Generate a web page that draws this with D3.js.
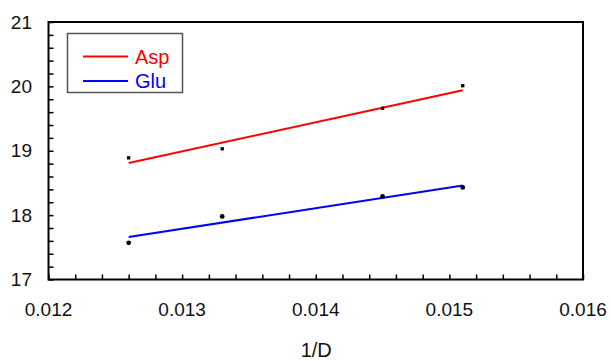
<!DOCTYPE html>
<html>
<head>
<meta charset="utf-8">
<script src="https://cdn.jsdelivr.net/npm/d3@7"></script>
<style>
  html, body { margin: 0; padding: 0; background: #fff; }
  svg { display: block; font-family: Arial, "Liberation Sans", sans-serif; }
</style>
</head>
<body>
<svg id="chart" width="611" height="361"></svg>
<script>
// Data
const xValues = [0.0126, 0.0133, 0.0145, 0.0151];
const aspValues = [18.89, 19.03, 19.66, 20.01];
const gluValues = [17.57, 17.98, 18.29, 18.43];
// Fitted (trend) lines: endpoints
const fitX = [0.0126, 0.0151];
const aspFit = [18.81, 19.94];
const gluFit = [17.66, 18.46];
const seriesNames = ["Asp", "Glu"];
const xTicks = [0.012, 0.013, 0.014, 0.015, 0.016];
const yTicks = [17, 18, 19, 20, 21];
const xLabel = "1/D";

const svg = d3.select("#chart");
const mLeft = 48.5, mRight = 583, mTop = 22, mBottom = 279.5;

const x = d3.scaleLinear().domain([0.012, 0.016]).range([mLeft, mRight]);
const y = d3.scaleLinear().domain([17, 21]).range([mBottom, mTop]);

// minor ticks (inward)
const xMinor = d3.range(0, 21).map(i => 0.012 + i * 0.0002);
const yMinor = d3.range(0, 21).map(i => 17 + i * 0.2);

const xAxis = d3.axisBottom(x).tickValues(xMinor).tickSize(-5).tickFormat("");
const yAxis = d3.axisLeft(y).tickValues(yMinor).tickSize(-5).tickFormat("");

const gx = svg.append("g").attr("transform", `translate(0,${mBottom})`).call(xAxis);
const gy = svg.append("g").attr("transform", `translate(${mLeft},0)`).call(yAxis);
[gx, gy].forEach(g => {
  g.select(".domain").remove();
  g.selectAll(".tick line").attr("stroke", "#000").attr("stroke-width", 1.5);
});

// frame
svg.append("rect")
  .attr("x", mLeft).attr("y", mTop)
  .attr("width", mRight - mLeft).attr("height", mBottom - mTop)
  .attr("fill", "none").attr("stroke", "#000").attr("stroke-width", 2);

// tick labels
svg.append("g").selectAll("text").data(xTicks).join("text")
  .attr("x", d => x(d)).attr("y", 316)
  .attr("text-anchor", "middle")
  .attr("font-size", 19).attr("fill", "#111")
  .text(d => d3.format(".3f")(d));

svg.append("g").selectAll("text").data(yTicks).join("text")
  .attr("x", 32).attr("y", d => y(d))
  .attr("dy", "0.35em")
  .attr("text-anchor", "end")
  .attr("font-size", 19).attr("fill", "#111")
  .text(d => d);

svg.append("text")
  .attr("x", (mLeft + mRight) / 2 + 0.5).attr("y", 357)
  .attr("text-anchor", "middle")
  .attr("font-size", 20).attr("fill", "#111")
  .text(xLabel);

// fit lines
const line = d3.line().x(d => x(d[0])).y(d => y(d[1]));
svg.append("path").datum(fitX.map((v, i) => [v, aspFit[i]]))
  .attr("d", line).attr("fill", "none").attr("stroke", "#ff0000").attr("stroke-width", 2);
svg.append("path").datum(fitX.map((v, i) => [v, gluFit[i]]))
  .attr("d", line).attr("fill", "none").attr("stroke", "#0000ff").attr("stroke-width", 2);

// markers
const sq = d3.symbol().type(d3.symbolSquare).size(11);
const dm = d3.symbol().type(d3.symbolCircle).size(18);
svg.append("g").selectAll("path").data(xValues.map((v, i) => [v, aspValues[i]])).join("path")
  .attr("transform", d => `translate(${x(d[0])},${y(d[1])})`)
  .attr("d", sq).attr("fill", "#000");
svg.append("g").selectAll("path").data(xValues.map((v, i) => [v, gluValues[i]])).join("path")
  .attr("transform", d => `translate(${x(d[0])},${y(d[1])})`)
  .attr("d", dm).attr("fill", "#000");

// legend
const lg = svg.append("g");
lg.append("rect")
  .attr("x", 67.5).attr("y", 33.5).attr("width", 115).attr("height", 59)
  .attr("fill", "#fff").attr("stroke", "#555").attr("stroke-width", 1.5);
const legendColors = ["#ff0000", "#0000ff"];
const legendY = [56.5, 81];
seriesNames.forEach((name, i) => {
  lg.append("line")
    .attr("x1", 83).attr("x2", 128)
    .attr("y1", legendY[i]).attr("y2", legendY[i])
    .attr("stroke", legendColors[i]).attr("stroke-width", 2);
  lg.append("text")
    .attr("x", 135).attr("y", legendY[i] + 7)
    .attr("font-size", 20).attr("fill", legendColors[i])
    .text(name);
});
</script>
</body>
</html>
